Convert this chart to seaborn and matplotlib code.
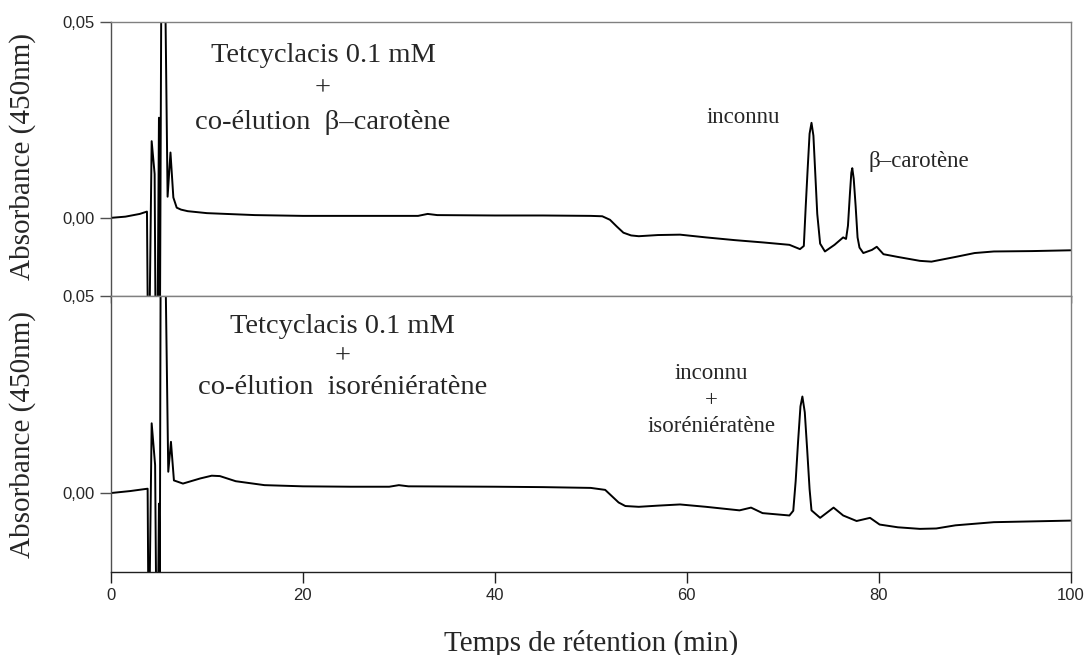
"""
HPLC chromatograms at 450 nm: Tetcyclacis 0.1 mM co-eluted with
beta-carotene (top) and isorenieratene (bottom).
"""

import matplotlib
matplotlib.use("Agg")
import matplotlib.pyplot as plt
from matplotlib.ticker import FuncFormatter
import pandas as pd
import seaborn as sns

# retention time (min) / absorbance
top_time = [0.0, 1.5, 3.0, 3.75, 3.85, 4.0, 4.24, 4.55, 4.65, 4.85, 5.0, 5.1,
            5.28, 5.55, 5.9, 6.2, 6.5, 6.85, 7.3, 8.0, 10.0, 15.0, 20.0, 25.0,
            30.0, 32.0, 33.0, 34.0, 40.0, 45.0, 50.0, 51.2, 52.0, 52.7, 53.4,
            54.2, 55.0, 57.0, 59.3, 62.0, 65.0, 68.0, 70.7, 71.8, 72.2, 72.4,
            72.6, 72.8, 73.0, 73.2, 73.4, 73.6, 73.9, 74.4, 75.4, 76.3, 76.6,
            76.8, 77.0, 77.15, 77.25, 77.4, 77.6, 77.8, 78.0, 78.4, 79.3, 79.8,
            80.5, 82.0, 84.3, 85.5, 88.0, 90.0, 92.0, 96.0, 100.0]
top_abs = [0.0000, 0.0003, 0.0010, 0.0016, -0.030, -0.030, 0.0196, 0.0112,
           -0.030, -0.030, 0.0256, -0.030, 0.080, 0.080, 0.0054, 0.0167, 0.0052,
           0.0026, 0.0021, 0.0017, 0.0012, 0.0007, 0.0005, 0.0005, 0.0005,
           0.0005, 0.0010, 0.0007, 0.0006, 0.0006, 0.0005, 0.0004, -0.0005,
           -0.0022, -0.0038, -0.0045, -0.0047, -0.0044, -0.0043, -0.0050,
           -0.0057, -0.0063, -0.0069, -0.0080, -0.0072, 0.0030, 0.0125, 0.0215,
           0.0243, 0.0210, 0.0110, 0.0010, -0.0066, -0.0086, -0.0069, -0.0050,
           -0.0054, -0.0020, 0.0060, 0.0115, 0.0127, 0.0100, 0.0030, -0.0050,
           -0.0076, -0.0090, -0.0082, -0.0074, -0.0093, -0.0100, -0.0110,
           -0.0112, -0.0100, -0.0090, -0.0086, -0.0085, -0.0083]

bottom_time = [0.0, 2.0, 3.82, 3.9, 4.0, 4.24, 4.6, 4.72, 4.9, 5.0, 5.08, 5.2,
               5.55, 5.97, 6.25, 6.56, 7.5, 9.3, 10.5, 11.35, 13.0, 16.0, 20.0,
               25.0, 29.0, 30.0, 31.0, 40.0, 45.0, 50.0, 51.5, 52.2, 52.9, 53.6,
               55.0, 57.0, 59.3, 62.0, 65.5, 66.7, 67.9, 70.7, 71.1, 71.35, 71.6,
               71.85, 72.05, 72.3, 72.55, 72.8, 73.0, 73.9, 75.3, 76.3, 77.7,
               79.1, 80.1, 82.0, 84.3, 86.0, 88.0, 92.0, 96.0, 100.0]
bottom_abs = [0.0000, 0.0005, 0.0011, -0.030, -0.030, 0.0177, 0.0071, -0.030,
              -0.030, -0.0027, -0.030, 0.080, 0.080, 0.0054, 0.0130, 0.0032,
              0.0024, 0.0037, 0.0044, 0.0043, 0.0030, 0.0020, 0.0017, 0.0016,
              0.0016, 0.0020, 0.0017, 0.0016, 0.0015, 0.0013, 0.0008, -0.0008,
              -0.0024, -0.0033, -0.0035, -0.0032, -0.0029, -0.0035, -0.0044,
              -0.0037, -0.0051, -0.0057, -0.0045, 0.0030, 0.0130, 0.0220,
              0.0245, 0.0205, 0.0110, 0.0010, -0.0044, -0.0063, -0.0037,
              -0.0057, -0.0071, -0.0063, -0.0080, -0.0087, -0.0091, -0.0090,
              -0.0082, -0.0074, -0.0072, -0.0070]

titles = ["Tetcyclacis 0.1 mM\n+\nco-élution  β\u2013carotène",
          "Tetcyclacis 0.1 mM\n+\nco-élution  isoréniératène"]
x_ticks = [0, 20, 40, 60, 80, 100]
y_ticks = [0.0, 0.05]

sns.set_style("white")
plt.rcParams["font.family"] = ["Liberation Sans", "DejaVu Sans"]
SERIF = ["Liberation Serif", "DejaVu Serif"]

fig = plt.figure(figsize=(10.88, 6.55), dpi=100)
ax_top = fig.add_axes([0.102, 0.548, 0.882, 0.418])
ax_bot = fig.add_axes([0.102, 0.127, 0.882, 0.421])

traces = [pd.DataFrame({"t": top_time, "a": top_abs}),
          pd.DataFrame({"t": bottom_time, "a": bottom_abs})]

for ax, df in zip([ax_top, ax_bot], traces):
    sns.lineplot(data=df, x="t", y="a", ax=ax, color="black", lw=1.4,
                 sort=False, estimator=None)
    ax.set_xlim(0, 100)
    ax.set_ylim(-0.02, 0.05)
    ax.set_xticks(x_ticks)
    ax.set_yticks(y_ticks)
    ax.yaxis.set_major_formatter(FuncFormatter(lambda v, p: f"{v:.2f}".replace(".", ",")))
    ax.set_xlabel("")
    ax.set_ylabel("")
    for side in ["top", "right"]:
        ax.spines[side].set_color("#808080")
    ax.spines["left"].set_color("#505050")
    ax.spines["bottom"].set_color("#202020")
    for sp in ax.spines.values():
        sp.set_linewidth(1.0)
    ax.tick_params(axis="y", direction="out", length=8, width=1, color="#505050",
                   labelsize=12, left=True)
    ax.tick_params(axis="x", direction="out", length=8, width=1, color="#202020",
                   labelsize=12, bottom=True)

ax_top.tick_params(axis="x", labelbottom=False, length=5)
ax_top.spines["bottom"].set_color("#808080")

# panel annotations
ax_top.text(22.1, 0.0329, titles[0], ha="center", va="center", fontsize=20.5,
            family=SERIF, linespacing=1.45)
ax_top.text(65.9, 0.0256, "inconnu", ha="center", va="center", fontsize=16.5,
            family=SERIF)
ax_top.text(78.9, 0.0144, "β\u2013carotène", ha="left", va="center",
            fontsize=16.5, family=SERIF)

ax_bot.text(24.1, 0.0346, titles[1], ha="center", va="center", fontsize=20.5,
            family=SERIF, linespacing=1.3)
ax_bot.text(62.6, 0.0236, "inconnu\n+\nisoréniératène", ha="center",
            va="center", fontsize=16.5, family=SERIF, linespacing=1.35)

# axis titles
fig.text(0.021, 1 - 157 / 655, "Absorbance (450nm)", rotation=90, ha="center",
         va="center", fontsize=21, family=SERIF)
fig.text(0.021, 1 - 434 / 655, "Absorbance (450nm)", rotation=90, ha="center",
         va="center", fontsize=21, family=SERIF)
fig.text(591 / 1088, 1 - 643 / 655, "Temps de rétention (min)", ha="center",
         va="center", fontsize=21, family=SERIF)

plt.savefig("out.png", dpi=100)
plt.close()
